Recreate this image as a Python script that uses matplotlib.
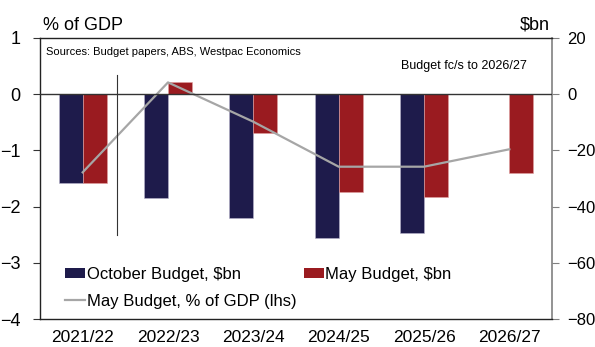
import matplotlib
matplotlib.use("Agg")
import matplotlib.pyplot as plt
import numpy as np
from matplotlib.patches import Patch
from matplotlib.lines import Line2D

plt.rcParams['font.family'] = ['Liberation Sans', 'DejaVu Sans']

categories = ["2021/22", "2022/23", "2023/24", "2024/25", "2025/26", "2026/27"]
october_bn = [-31.7, -36.8, -43.9, -51.0, -49.5, np.nan]
may_bn = [-31.7, 4.2, -13.8, -34.9, -36.5, -28.2]
may_pct_gdp = [-1.39, 0.21, -0.49, -1.29, -1.29, -0.98]
left_ticks = [1, 0, -1, -2, -3, -4]
right_ticks = [20, 0, -20, -40, -60, -80]

NAVY = '#1e1b4b'
RED = '#9a1b20'
GREY = '#a6a6a6'

fig = plt.figure(figsize=(5.95, 3.47), dpi=100)
ax = fig.add_axes([40/595, 28/347, 512/595, 281/347])
ax2 = ax.twinx()

x = np.arange(len(categories))
w = 0.28
ax2.bar(x - w/2, october_bn, width=w, color=NAVY, edgecolor='#b8b4cc', linewidth=0.4, zorder=2)
ax2.bar(x + w/2, may_bn, width=w, color=RED, edgecolor='#e0a0a0', linewidth=0.4, zorder=2)

ax.set_zorder(ax2.get_zorder() + 1)
ax.patch.set_visible(False)
ax.plot(x, may_pct_gdp, color=GREY, linewidth=1.6, zorder=3)
ax.axhline(0, color='#333333', linewidth=1.0, zorder=4)
# separator line
ax.plot([0.40, 0.40], [0.34, -2.50], color='#333333', linewidth=0.8, zorder=4)

ax.set_xlim(-0.5, len(categories) - 0.5)
ax.set_ylim(-4, 1)
ax2.set_ylim(-80, 20)
ax.set_yticks(left_ticks)
ax2.set_yticks(right_ticks)
ax.set_xticks(x)
ax.set_xticklabels(categories)

ax.tick_params(axis='y', labelsize=13, length=5, width=0.8, pad=9, color='#333333')
ax2.tick_params(axis='y', labelsize=12, length=5, width=0.8, pad=6, color='#808080')
ax.tick_params(axis='x', labelsize=12.5, length=0, pad=8)

for s in ['left', 'top', 'bottom']:
    ax.spines[s].set_color('#222222')
    ax.spines[s].set_linewidth(1.0)
ax.spines['right'].set_visible(False)
for s in ['left', 'top', 'bottom']:
    ax2.spines[s].set_visible(False)
ax2.spines['right'].set_color('#808080')
ax2.spines['right'].set_linewidth(1.2)

fig.text(43/595, 1 - 25/347, "% of GDP", fontsize=13, va='center', ha='left')
fig.text(550/595, 1 - 25/347, "$bn", fontsize=13, va='center', ha='right')
fig.text(46/595, 1 - 52/347, "Sources: Budget papers, ABS, Westpac Economics", fontsize=8, va='center', ha='left')
fig.text(401/595, 1 - 66/347, "Budget fc/s to 2026/27", fontsize=9, va='center', ha='left')

handles = [Patch(facecolor=NAVY), Line2D([0], [0], color=GREY, linewidth=1.6), Patch(facecolor=RED)]
labels = ["October Budget, $bn", "May Budget, % of GDP (lhs)", "May Budget, $bn"]
leg = ax.legend(handles, labels, ncol=2, loc='upper left', bbox_to_anchor=(65/595, 1 - 267/347),
                bbox_transform=fig.transFigure, frameon=False, fontsize=12,
                handlelength=1.2, handleheight=0.55, handletextpad=0.1, columnspacing=0.45,
                labelspacing=0.7, borderaxespad=0, borderpad=0)

fig.savefig("out.png", dpi=100)
